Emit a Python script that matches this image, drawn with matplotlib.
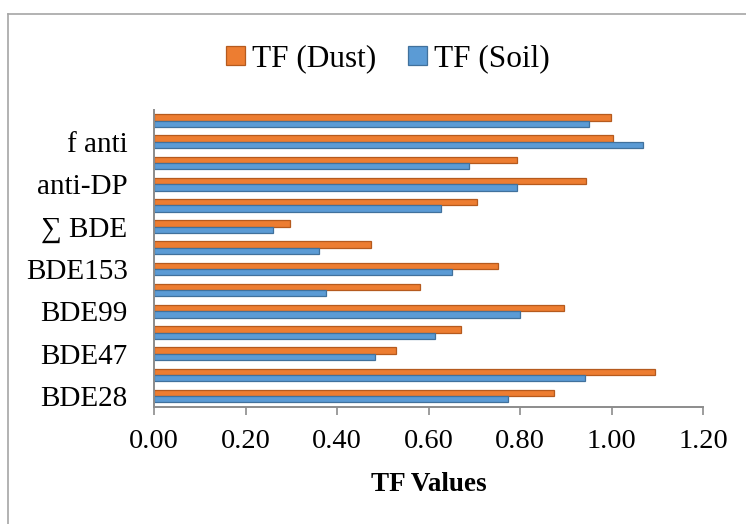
import matplotlib
matplotlib.use("Agg")
import matplotlib.pyplot as plt
import numpy as np
from matplotlib.lines import Line2D

plt.rcParams['font.family'] = ['Liberation Serif', 'DejaVu Serif']

# Categories bottom -> top (Excel shows every other label)
categories = ["BDE28", "BDE33", "BDE47", "BDE66", "BDE99", "BDE100", "BDE153",
              "BDE154", "∑ BDE", "syn-DP", "anti-DP", "∑ DP", "f anti", "f syn"]
tf_dust = [0.875, 1.094, 0.529, 0.670, 0.897, 0.582, 0.752,
           0.474, 0.297, 0.707, 0.945, 0.793, 1.003, 0.998]
tf_soil = [0.774, 0.943, 0.484, 0.615, 0.800, 0.377, 0.651,
           0.360, 0.260, 0.628, 0.793, 0.689, 1.069, 0.951]
x_ticks = [0.0, 0.2, 0.4, 0.6, 0.8, 1.0, 1.2]

orange = "#ED7D31"
orange_edge = "#B55A1E"
blue = "#5B9BD5"
blue_edge = "#41719C"
grey = "#8C8C8C"

fig = plt.figure(figsize=(7.46, 5.24), dpi=100)
ax = fig.add_axes([154/746, 1-406.7/524, 549/746, (406.7-110)/524])

y = np.arange(len(categories))
h = 0.3
ax.barh(y + h/2, tf_dust, height=h, color=orange, edgecolor=orange_edge,
        linewidth=0.9, label="TF (Dust)")
ax.barh(y - h/2, tf_soil, height=h, color=blue, edgecolor=blue_edge,
        linewidth=0.9, label="TF (Soil)")

ax.set_ylim(-0.5, len(categories) - 0.5)
ax.set_xlim(0, 1.2)
ax.set_xticks(x_ticks)
ax.set_xticklabels([f"{v:.2f}" for v in x_ticks], fontsize=20.5)
ax.set_yticks(y)
ax.set_yticklabels([c if i % 2 == 0 else "" for i, c in enumerate(categories)],
                   fontsize=21)

for s in ["top", "right"]:
    ax.spines[s].set_visible(False)
for s in ["left", "bottom"]:
    ax.spines[s].set_color(grey)
    ax.spines[s].set_linewidth(1.4)

ax.tick_params(axis="x", direction="out", length=6, width=1.2, color=grey, pad=10)
ax.tick_params(axis="y", length=0, pad=19)

ax.set_xlabel("TF Values", fontsize=19.5, fontweight="bold", labelpad=13)

handles, labels = ax.get_legend_handles_labels()
fig.legend(handles, labels, loc="center", bbox_to_anchor=(388/746, 1-59/524),
           ncol=2, frameon=False, fontsize=22.5, handlelength=0.6,
           handleheight=0.6, handletextpad=0.25, columnspacing=1.0)

# outer chart frame (partially cropped at right/bottom)
fig.add_artist(Line2D([8/746, 8/746], [0, 1-14/524], transform=fig.transFigure,
                      color="#A6A6A6", linewidth=1.2))
fig.add_artist(Line2D([8/746, 1], [1-14/524, 1-14/524], transform=fig.transFigure,
                      color="#A6A6A6", linewidth=1.2))

fig.savefig("out.png", dpi=100)
